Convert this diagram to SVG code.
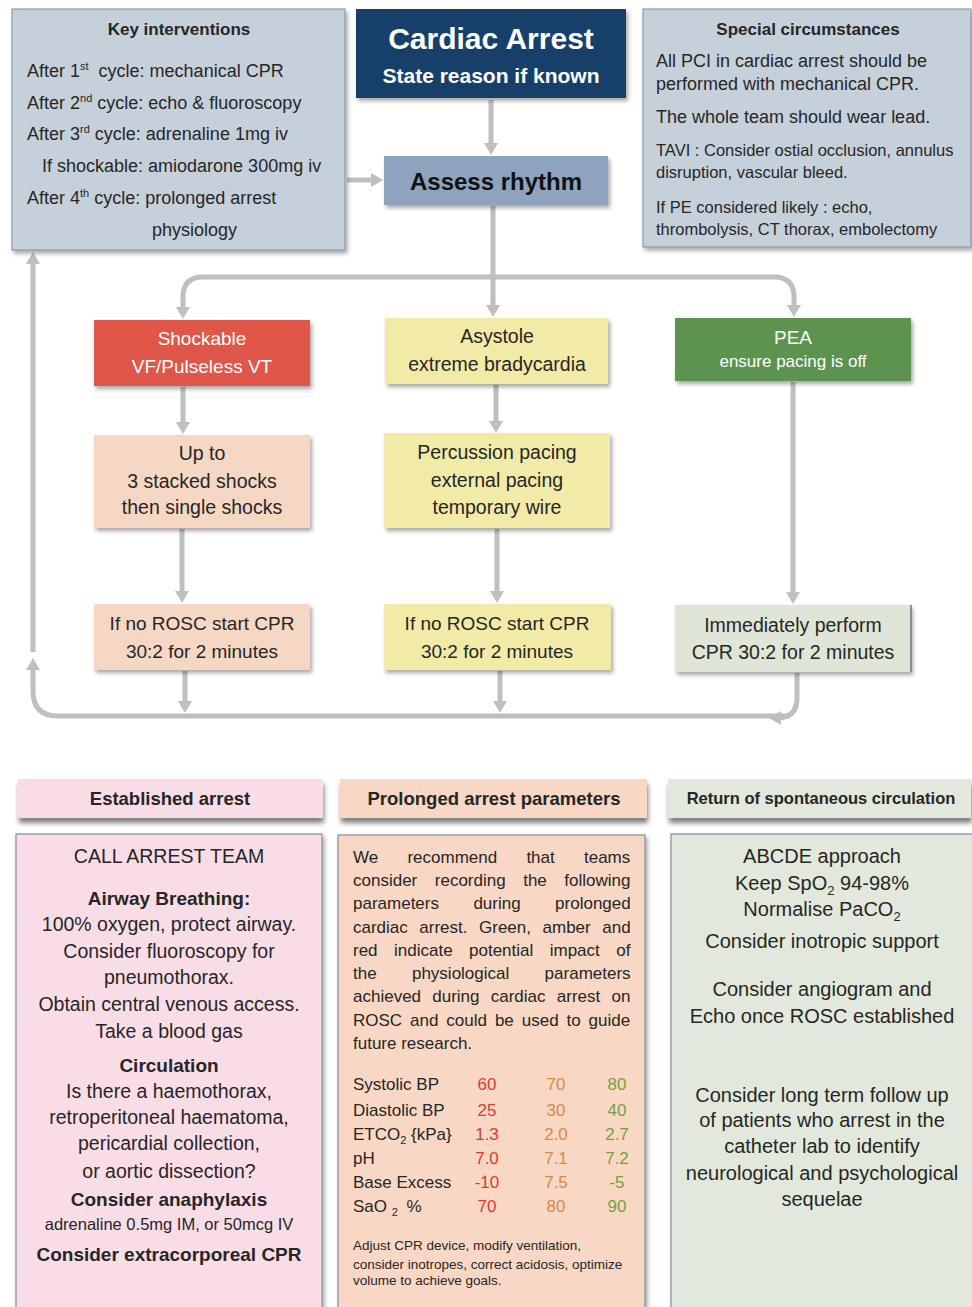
<svg xmlns="http://www.w3.org/2000/svg" width="972" height="1307" viewBox="0 0 972 1307">
<style>
text{font-family:"Liberation Sans",Arial,sans-serif;fill:#262626}
.w{fill:#ffffff}
.b{font-weight:bold}
.c{text-anchor:middle}
.conn{fill:none;stroke:#bfbfbf;stroke-width:5}
.box{filter:url(#sh)}
.f18{font-size:18px}
.f195{font-size:19.5px}
.f17{font-size:17px}
.red{fill:#e03a2f}
.amb{fill:#d98a45}
.grn{fill:#76a044}
</style>
<defs>
<filter id="sh" x="-5%" y="-10%" width="115%" height="135%">
<feDropShadow dx="2" dy="3" stdDeviation="2" flood-color="#000" flood-opacity="0.35"/>
</filter>
<filter id="sh2" x="-5%" y="-10%" width="115%" height="150%">
<feDropShadow dx="1" dy="5" stdDeviation="2.5" flood-color="#000" flood-opacity="0.5"/>
</filter>
<marker id="ah" viewBox="0 0 12 14" refX="4" refY="7" markerWidth="12" markerHeight="14" markerUnits="userSpaceOnUse" orient="auto">
<path d="M0,0 L12,7 L0,14 z" fill="#bfbfbf"/>
</marker>
</defs>
<rect width="972" height="1307" fill="#ffffff"/>

<g id="connectors">
<path class="conn" d="M491,100 V147" marker-end="url(#ah)"/>
<path class="conn" d="M347,180 H375" marker-end="url(#ah)"/>
<path class="conn" d="M493,206 V309" marker-end="url(#ah)"/>
<path class="conn" d="M493,277 H203 Q183,277 183,297 V311" marker-end="url(#ah)"/>
<path class="conn" d="M493,277 H774 Q794,277 794,297 V309" marker-end="url(#ah)"/>
<path class="conn" d="M183,387 V426" marker-end="url(#ah)"/>
<path class="conn" d="M496,385 V425" marker-end="url(#ah)"/>
<path class="conn" d="M182,529 V595" marker-end="url(#ah)"/>
<path class="conn" d="M497,529 V595" marker-end="url(#ah)"/>
<path class="conn" d="M793,382 V596" marker-end="url(#ah)"/>
<path class="conn" d="M185,671 V705" marker-end="url(#ah)"/>
<path class="conn" d="M500,671 V705" marker-end="url(#ah)"/>
<path class="conn" d="M797,673 V698 Q797,718 777,718" marker-end="url(#ah)"/>
<path class="conn" d="M790,716 H58 Q33,716 33,691 V666" marker-end="url(#ah)"/>
<path class="conn" d="M33,652 V260" marker-end="url(#ah)"/>
</g>

<g id="key-interventions">
<rect class="box" x="12" y="9" width="333" height="241" fill="#c6d0db" stroke="#7d8c9c" stroke-width="1"/>
<text class="b c" x="179" y="35" font-size="17">Key interventions</text>
<text class="f18" x="27" y="77">After 1<tspan font-size="11" dy="-7">st</tspan><tspan dy="7" dx="5"> cycle: mechanical CPR</tspan></text>
<text class="f18" x="27" y="109">After 2<tspan font-size="11" dy="-7">nd</tspan><tspan dy="7"> cycle: echo &amp; fluoroscopy</tspan></text>
<text class="f18" x="27" y="140">After 3<tspan font-size="11" dy="-7">rd</tspan><tspan dy="7"> cycle: adrenaline 1mg iv</tspan></text>
<text class="f18" x="42" y="172">If shockable: amiodarone 300mg iv</text>
<text class="f18" x="27" y="204">After 4<tspan font-size="11" dy="-7">th</tspan><tspan dy="7"> cycle: prolonged arrest</tspan></text>
<text class="f18" x="152" y="236">physiology</text>
</g>

<g id="cardiac-arrest">
<rect class="box" x="356" y="9" width="270" height="89" fill="#17416a"/>
<text class="w b c" x="491" y="49" font-size="30">Cardiac Arrest</text>
<text class="w b c" x="491" y="83" font-size="21">State reason if known</text>
</g>

<g id="assess-rhythm">
<rect class="box" x="384" y="156" width="224" height="49" fill="#8ea3bd"/>
<text class="b c" x="496" y="190" font-size="24" style="fill:#111">Assess rhythm</text>
</g>

<g id="special-circumstances">
<rect class="box" x="643" y="9" width="328" height="238" fill="#c6d0db" stroke="#7d8c9c" stroke-width="1"/>
<text class="b c" x="808" y="35" font-size="17">Special circumstances</text>
<text class="f18" x="656" y="67">All PCI in cardiac arrest should be</text>
<text class="f18" x="656" y="90">performed with mechanical CPR.</text>
<text class="f18" x="656" y="123">The whole team should wear lead.</text>
<text x="656" y="156" font-size="16.5">TAVI : Consider ostial occlusion, annulus</text>
<text x="656" y="178" font-size="16.5">disruption, vascular bleed.</text>
<text x="656" y="213" font-size="16.5">If PE considered likely : echo,</text>
<text x="656" y="235" font-size="16.5">thrombolysis, CT thorax, embolectomy</text>
</g>

<g id="shockable">
<rect class="box" x="94" y="320" width="216" height="66" fill="#e0574a"/>
<text class="w c" x="202" y="345" font-size="19">Shockable</text>
<text class="w c" x="202" y="373" font-size="19">VF/Pulseless VT</text>
</g>

<g id="asystole">
<rect class="box" x="385" y="318" width="223" height="66" fill="#f2eba7"/>
<text class="c f195" x="497" y="343">Asystole</text>
<text class="c f195" x="497" y="371">extreme bradycardia</text>
</g>

<g id="pea">
<rect class="box" x="675" y="318" width="236" height="63" fill="#5c9450"/>
<text class="w c" x="793" y="344" font-size="19">PEA</text>
<text class="w c" x="793" y="367" font-size="17">ensure pacing is off</text>
</g>

<g id="up-to-shocks">
<rect class="box" x="94" y="435" width="216" height="93" fill="#f6d7c4"/>
<text class="c f195" x="202" y="460">Up to</text>
<text class="c f195" x="202" y="488">3 stacked shocks</text>
<text class="c f195" x="202" y="514">then single shocks</text>
</g>

<g id="pacing">
<rect class="box" x="384" y="433" width="226" height="95" fill="#f2eba7"/>
<text class="c f195" x="497" y="459">Percussion pacing</text>
<text class="c f195" x="497" y="487">external pacing</text>
<text class="c f195" x="497" y="514">temporary wire</text>
</g>

<g id="cpr-shockable">
<rect class="box" x="94" y="604" width="216" height="66" fill="#f6d7c4"/>
<text class="c" x="202" y="630" font-size="19">If no ROSC start CPR</text>
<text class="c" x="202" y="658" font-size="19">30:2 for 2 minutes</text>
</g>

<g id="cpr-asystole">
<rect class="box" x="384" y="604" width="227" height="66" fill="#f2eba7"/>
<text class="c" x="497" y="630" font-size="19">If no ROSC start CPR</text>
<text class="c" x="497" y="658" font-size="19">30:2 for 2 minutes</text>
</g>

<g id="cpr-pea">
<rect class="box" x="675" y="605" width="236" height="67" fill="#dfe6d8"/>
<line x1="911" y1="605" x2="911" y2="672" stroke="#6b7b8b" stroke-width="1.5"/>
<text class="c f195" x="793" y="632">Immediately perform</text>
<text class="c f195" x="793" y="659">CPR 30:2 for 2 minutes</text>
</g>

<g id="established-header">
<rect x="18" y="779" width="305" height="39" fill="#f9dde6" filter="url(#sh2)"/>
<text class="b c" x="170" y="805" font-size="18.5">Established arrest</text>
</g>

<g id="prolonged-header">
<rect x="340" y="779" width="307" height="39" fill="#f8d8c4" filter="url(#sh2)"/>
<text class="b c" x="494" y="805" font-size="18.5">Prolonged arrest parameters</text>
</g>

<g id="rosc-header">
<rect x="668" y="779" width="303" height="39" fill="#e2e8dc" filter="url(#sh2)"/>
<text class="b c" x="821" y="804" font-size="16.5">Return of spontaneous circulation</text>
</g>

<g id="established-arrest">
<rect class="box" x="16" y="834" width="306" height="480" fill="#f9dde6" stroke="#7f8ea3" stroke-width="1.2"/>
<text class="c f195" x="169" y="863">CALL ARREST TEAM</text>
<text class="c b" x="169" y="905" font-size="19">Airway Breathing:</text>
<text class="c f195" x="169" y="931">100% oxygen, protect airway.</text>
<text class="c f195" x="169" y="958">Consider fluoroscopy for</text>
<text class="c f195" x="169" y="984">pneumothorax.</text>
<text class="c f195" x="169" y="1011">Obtain central venous access.</text>
<text class="c f195" x="169" y="1038">Take a blood gas</text>
<text class="c b" x="169" y="1072" font-size="19">Circulation</text>
<text class="c f195" x="169" y="1098">Is there a haemothorax,</text>
<text class="c f195" x="169" y="1124">retroperitoneal haematoma,</text>
<text class="c f195" x="169" y="1150">pericardial collection,</text>
<text class="c f195" x="169" y="1178">or aortic dissection?</text>
<text class="c b" x="169" y="1206" font-size="19">Consider anaphylaxis</text>
<text class="c" x="169" y="1230" font-size="16.5">adrenaline 0.5mg IM, or 50mcg IV</text>
<text class="c b" x="169" y="1261" font-size="19">Consider extracorporeal CPR</text>
</g>

<g id="prolonged-arrest">
<rect class="box" x="338" y="835" width="307" height="480" fill="#f8d8c4" stroke="#7f8ea3" stroke-width="1.2"/>
<text class="f17" x="353" y="863" word-spacing="24.5">We recommend that teams</text>
<text class="f17" x="353" y="886" word-spacing="12.8">consider recording the following</text>
<text class="f17" x="353" y="909" word-spacing="29.7">parameters during prolonged</text>
<text class="f17" x="353" y="933" word-spacing="6.8">cardiac arrest. Green, amber and</text>
<text class="f17" x="353" y="956" word-spacing="11.7">red indicate potential impact of</text>
<text class="f17" x="353" y="979" word-spacing="30.6">the physiological parameters</text>
<text class="f17" x="353" y="1002" word-spacing="6.5">achieved during cardiac arrest on</text>
<text class="f17" x="353" y="1026" word-spacing="3.2">ROSC and could be used to guide</text>
<text class="f17" x="353" y="1049">future research.</text>

<text class="f17" x="353" y="1090">Systolic BP</text>
<text class="f17 c red" x="487" y="1090">60</text>
<text class="f17 c amb" x="556" y="1090">70</text>
<text class="f17 c grn" x="617" y="1090">80</text>

<text class="f17" x="353" y="1116">Diastolic BP</text>
<text class="f17 c red" x="487" y="1116">25</text>
<text class="f17 c amb" x="556" y="1116">30</text>
<text class="f17 c grn" x="617" y="1116">40</text>

<text class="f17" x="353" y="1140">ETCO<tspan font-size="11" dy="4">2</tspan><tspan dy="-4"> {kPa}</tspan></text>
<text class="f17 c red" x="487" y="1140">1.3</text>
<text class="f17 c amb" x="556" y="1140">2.0</text>
<text class="f17 c grn" x="617" y="1140">2.7</text>

<text class="f17" x="353" y="1164">pH</text>
<text class="f17 c red" x="487" y="1164">7.0</text>
<text class="f17 c amb" x="556" y="1164">7.1</text>
<text class="f17 c grn" x="617" y="1164">7.2</text>

<text class="f17" x="353" y="1188">Base Excess</text>
<text class="f17 c red" x="487" y="1188">-10</text>
<text class="f17 c amb" x="556" y="1188">7.5</text>
<text class="f17 c grn" x="617" y="1188">-5</text>

<text class="f17" x="353" y="1212">SaO <tspan font-size="11" dy="4">2</tspan><tspan dy="-4" dx="4"> %</tspan></text>
<text class="f17 c red" x="487" y="1212">70</text>
<text class="f17 c amb" x="556" y="1212">80</text>
<text class="f17 c grn" x="617" y="1212">90</text>

<text x="353" y="1250" font-size="13.5">Adjust CPR device, modify ventilation,</text>
<text x="353" y="1269" font-size="13.5">consider inotropes, correct acidosis, optimize</text>
<text x="353" y="1285" font-size="13.5">volume to achieve goals.</text>
</g>

<g id="rosc">
<rect class="box" x="671" y="834" width="306" height="480" fill="#e2e9dc" stroke="#7f8ea3" stroke-width="1.2"/>
<text class="c" x="822" y="863" font-size="20">ABCDE approach</text>
<text class="c" x="822" y="890" font-size="20">Keep SpO<tspan font-size="13" dy="5">2</tspan><tspan dy="-5"> 94-98%</tspan></text>
<text class="c" x="822" y="916" font-size="20">Normalise PaCO<tspan font-size="13" dy="5">2</tspan></text>
<text class="c" x="822" y="948" font-size="20">Consider inotropic support</text>
<text class="c" x="822" y="996" font-size="20">Consider angiogram and</text>
<text class="c" x="822" y="1023" font-size="20">Echo once ROSC established</text>
<text class="c" x="822" y="1102" font-size="20">Consider long term follow up</text>
<text class="c" x="822" y="1127" font-size="20">of patients who arrest in the</text>
<text class="c" x="822" y="1153" font-size="20">catheter lab to identify</text>
<text class="c" x="822" y="1180" font-size="20">neurological and psychological</text>
<text class="c" x="822" y="1206" font-size="20">sequelae</text>
</g>
</svg>
